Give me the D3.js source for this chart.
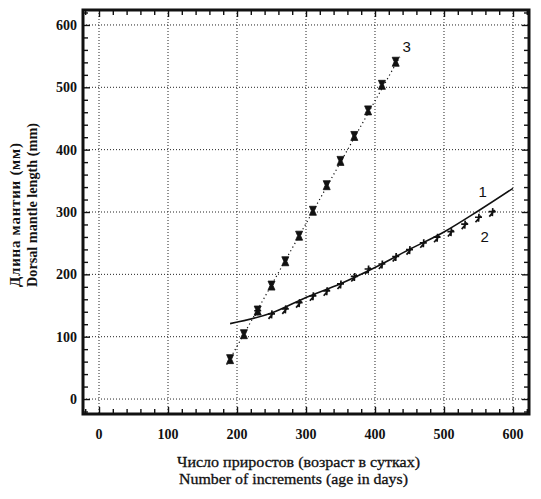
<!DOCTYPE html>
<html>
<head>
<meta charset="utf-8">
<script src="https://cdn.jsdelivr.net/npm/d3@7"></script>
<style>
  body { margin: 0; background: #fff; }
  svg { display: block; }
  .tick-label { font-family: "Liberation Serif", "DejaVu Serif", serif; font-weight: bold; font-size: 14px; fill: #111; }
  .title { font-family: "Liberation Serif", "DejaVu Serif", serif; font-size: 15px; fill: #111; }
  .curve-label { font-family: "Liberation Sans", Arial, sans-serif; font-size: 15px; fill: #111; }
</style>
</head>
<body>
<div id="chart"></div>
<script>
// series 3: squares, dotted straight line
const s3Days = [190, 210, 230, 250, 270, 290, 310, 330, 350, 370, 390, 410, 430]
const s3Length = [64, 104, 142, 182, 221, 262, 302, 343, 382, 422, 463, 504, 541]
const line3Days = [185, 436]
const line3Length = [55, 549]

// series 1: solid curve
const line1Days = [190, 250, 300, 350, 400, 450, 500, 550, 600]
const line1Length = [121, 138, 163, 185, 211, 240, 268, 302, 338]

// series 2: crosses
const s2Days = [230, 250, 270, 290, 310, 330, 350, 370, 390, 410, 430, 450, 470, 490, 510, 530, 550, 570]
const s2Length = [140, 135, 143, 153, 164, 172, 183, 195, 207, 215, 227, 238, 249, 258, 267, 279, 290, 299]

const majorTicks = [0, 100, 200, 300, 400, 500, 600]
const curveLabels = ['1', '2', '3']
const curveLabelDays = [556, 559, 446]
const curveLabelLength = [332, 260, 565]

const width = 541
const height = 499
const margin = { top: 10, right: 12, bottom: 85, left: 83 }
const plotW = width - margin.left - margin.right
const plotH = height - margin.top - margin.bottom

const svg = d3.select('#chart').append('svg')
  .attr('width', width)
  .attr('height', height)

const x = d3.scaleLinear().domain([-23.2, 623.2]).range([margin.left, margin.left + plotW])
const y = d3.scaleLinear().domain([-24, 624]).range([margin.top + plotH, margin.top])

const minorX = d3.range(-20, 621, 20)
const minorY = d3.range(-20, 621, 20)

// dotted grid
const grid = svg.append('g').attr('stroke', '#222').attr('stroke-width', 1).attr('stroke-dasharray', '1,2')
grid.selectAll('line.gx').data(majorTicks).join('line')
  .attr('class', 'gx')
  .attr('x1', d => x(d)).attr('x2', d => x(d))
  .attr('y1', margin.top).attr('y2', margin.top + plotH)
grid.selectAll('line.gy').data(majorTicks).join('line')
  .attr('class', 'gy')
  .attr('y1', d => y(d)).attr('y2', d => y(d))
  .attr('x1', margin.left).attr('x2', margin.left + plotW)

// inward ticks on all four sides
const tickLen = d => (d % 100 === 0 ? 7 : 5)
const addTicks = (axis, translate) => {
  const g = svg.append('g').attr('transform', translate).call(axis)
  g.select('.domain').remove()
  g.selectAll('.tick line').attr('stroke', '#111').attr('stroke-width', 1.4)
  g.selectAll('.tick text').remove()
  return g
}
const bottomAxis = addTicks(d3.axisBottom(x).tickValues(minorX).tickSize(-5), `translate(0,${margin.top + plotH})`)
bottomAxis.selectAll('.tick line').attr('y2', d => -tickLen(d))
const topAxis = addTicks(d3.axisTop(x).tickValues(minorX).tickSize(-5), `translate(0,${margin.top})`)
topAxis.selectAll('.tick line').attr('y2', d => tickLen(d))
const leftAxis = addTicks(d3.axisLeft(y).tickValues(minorY).tickSize(-5), `translate(${margin.left},0)`)
leftAxis.selectAll('.tick line').attr('x2', d => tickLen(d))
const rightAxis = addTicks(d3.axisRight(y).tickValues(minorY).tickSize(-5), `translate(${margin.left + plotW},0)`)
rightAxis.selectAll('.tick line').attr('x2', d => -tickLen(d))

// frame
svg.append('rect')
  .attr('x', margin.left).attr('y', margin.top)
  .attr('width', plotW).attr('height', plotH)
  .attr('fill', 'none').attr('stroke', '#111').attr('stroke-width', 3)

// tick labels
svg.append('g').selectAll('text').data(majorTicks).join('text')
  .attr('class', 'tick-label')
  .attr('x', d => x(d)).attr('y', 439)
  .attr('text-anchor', 'middle')
  .text(d => d)
svg.append('g').selectAll('text').data(majorTicks).join('text')
  .attr('class', 'tick-label')
  .attr('x', 77).attr('y', d => y(d))
  .attr('dy', '0.35em')
  .attr('text-anchor', 'end')
  .text(d => d)

// axis titles
svg.append('text').attr('class', 'title')
  .attr('stroke', '#111').attr('stroke-width', 0.3)
  .attr('x', 177).attr('y', 467)
  .attr('textLength', 243).attr('lengthAdjust', 'spacingAndGlyphs')
  .text('Число приростов (возраст в сутках)')
svg.append('text').attr('class', 'title')
  .attr('stroke', '#111').attr('stroke-width', 0.3)
  .attr('x', 179).attr('y', 484)
  .attr('textLength', 229).attr('lengthAdjust', 'spacingAndGlyphs')
  .text('Number of increments (age in days)')

const yTitle = svg.append('text').attr('class', 'title')
  .attr('transform', 'translate(0,287) rotate(-90)')
  .attr('font-weight', 'bold')
yTitle.append('tspan').attr('x', 0).attr('y', 20)
  .attr('textLength', 144).attr('lengthAdjust', 'spacing')
  .text('Длина мантии  (мм)')
yTitle.append('tspan').attr('x', 0).attr('y', 37)
  .attr('textLength', 164).attr('lengthAdjust', 'spacingAndGlyphs')
  .text('Dorsal mantle length  (mm)')

const plot = svg.append('g')

// line 3 (dotted)
plot.append('path')
  .datum(d3.zip(line3Days, line3Length))
  .attr('fill', 'none').attr('stroke', '#111').attr('stroke-width', 1.2)
  .attr('stroke-dasharray', '1.2,3')
  .attr('d', d3.line().x(d => x(d[0])).y(d => y(d[1])))

// line 1 (solid)
plot.append('path')
  .datum(d3.zip(line1Days, line1Length))
  .attr('fill', 'none').attr('stroke', '#111').attr('stroke-width', 1.6)
  .attr('d', d3.line().x(d => x(d[0])).y(d => y(d[1])).curve(d3.curveMonotoneX))

// series 2 markers (crossed arrows)
plot.append('g').selectAll('path').data(d3.zip(s2Days, s2Length)).join('path')
  .attr('transform', d => `translate(${x(d[0])},${y(d[1])})`)
  .attr('d', 'M-3.5,-1L3.5,-1M0.5,-4.5L0,3.5M-3,4L2.5,-2.5')
  .attr('fill', 'none').attr('stroke', '#111').attr('stroke-width', 1.7)

// series 3 markers (hourglass)
plot.append('g').selectAll('path').data(d3.zip(s3Days, s3Length)).join('path')
  .attr('transform', d => `translate(${x(d[0])},${y(d[1])})`)
  .attr('d', 'M-3.5,-4.5L3.5,-4.5L1.5,0L3.5,4.5L-3.5,4.5L-1.5,0Z')
  .attr('fill', '#111').attr('stroke', '#111').attr('stroke-width', 0.8)

// curve labels
plot.append('g').selectAll('text').data(curveLabels).join('text')
  .attr('class', 'curve-label')
  .attr('x', (d, i) => x(curveLabelDays[i]))
  .attr('y', (d, i) => y(curveLabelLength[i]))
  .attr('dy', '0.35em')
  .attr('text-anchor', 'middle')
  .text(d => d)
</script>
</body>
</html>
